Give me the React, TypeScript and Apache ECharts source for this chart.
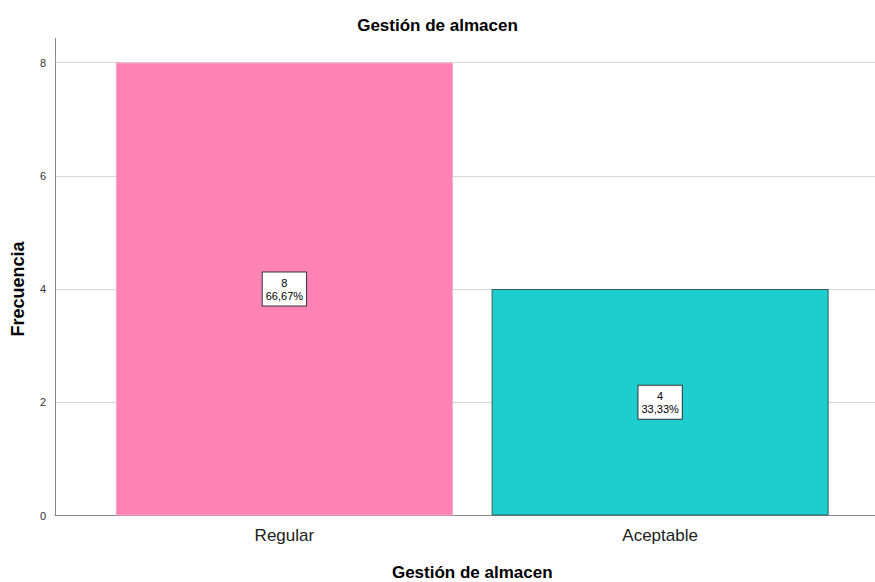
import React, { useEffect, useRef } from "react";
import * as echarts from "echarts";

const categories = ["Regular", "Aceptable"];
const counts = [8, 4];
const percents = ["66,67%", "33,33%"];
const barColors = ["#FF82B4", "#1ECDCD"];
const barBorders = ["#F9A3C6", "#2D5E5E"];
const yTicks = [0, 2, 4, 6, 8];

const FONT = "'Liberation Sans', Arial, sans-serif";

export default function App() {
  const ref = useRef<HTMLDivElement>(null);
  useEffect(() => {
    if (!ref.current) return;
    const chart = echarts.init(ref.current, undefined, { renderer: "svg" });
    const top = 62.5;
    const bottom = 66.5;
    chart.setOption({
      animation: false,
      backgroundColor: "#ffffff",
      title: {
        text: "Gestión de almacen",
        left: "center",
        top: 12,
        textStyle: { fontFamily: FONT, fontSize: 17, fontWeight: "bold", color: "#000" },
      },
      grid: [
        { left: 55, right: 0, top, bottom, containLabel: false, outerBoundsMode: "none" },
        { left: 96.5, right: 27, top, bottom, containLabel: false, outerBoundsMode: "none" },
      ],
      xAxis: [
        {
          gridIndex: 0,
          type: "category",
          data: categories,
          axisLine: { show: true, lineStyle: { color: "#888888", width: 1 } },
          axisTick: { show: false },
          axisLabel: { show: false },
          splitLine: { show: false },
        },
        {
          gridIndex: 1,
          type: "category",
          data: categories,
          axisLine: { show: false },
          axisTick: { show: false },
          axisLabel: { fontFamily: FONT, fontSize: 17, color: "#222", margin: 11 },
          name: "Gestión de almacen",
          nameLocation: "middle",
          nameGap: 48,
          nameTextStyle: { fontFamily: FONT, fontSize: 17, fontWeight: "bold", color: "#000" },
        },
      ],
      yAxis: [
        {
          gridIndex: 0,
          type: "value",
          min: yTicks[0],
          max: yTicks[yTicks.length - 1],
          interval: 2,
          axisLine: { show: true, lineStyle: { color: "#888888", width: 1 } },
          axisTick: { show: false },
          axisLabel: { fontFamily: FONT, fontSize: 11, color: "#333", margin: 9 },
          splitLine: { show: true, lineStyle: { color: "#d4d4d4", width: 1 } },
          name: "Frecuencia",
          nameLocation: "middle",
          nameGap: 28,
          nameTextStyle: { fontFamily: FONT, fontSize: 18, fontWeight: "bold", color: "#000" },
        },
        {
          gridIndex: 1,
          type: "value",
          min: yTicks[0],
          max: yTicks[yTicks.length - 1],
          interval: 2,
          show: false,
        },
      ],
      graphic: [
        {
          type: "line",
          shape: { x1: 55.5, y1: 38, x2: 55.5, y2: top },
          style: { stroke: "#888888", lineWidth: 1 },
          silent: true,
        },
      ],
      series: [
        {
          type: "bar",
          xAxisIndex: 1,
          yAxisIndex: 1,
          barWidth: 337,
          data: counts.map((v, i) => ({
            value: v,
            itemStyle: { color: barColors[i], borderColor: barBorders[i], borderWidth: 1 },
          })),
          label: {
            show: true,
            position: "inside",
            formatter: (p: any) => `${counts[p.dataIndex]}\n${percents[p.dataIndex]}`,
            fontFamily: FONT,
            fontSize: 11,
            lineHeight: 13,
            color: "#000",
            backgroundColor: "#ffffff",
            borderColor: "#333333",
            borderWidth: 1,
            padding: [4, 3, 3, 3],
          },
        },
      ],
    });
    return () => chart.dispose();
  }, []);
  return <div ref={ref} style={{ width: 875, height: 582, position: "absolute", left: 0, top: 0 }} />;
}
